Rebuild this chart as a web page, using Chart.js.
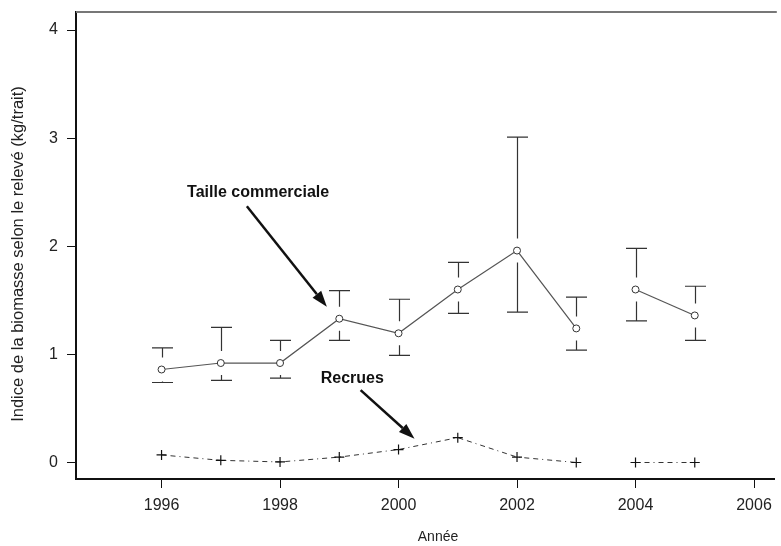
<!DOCTYPE html>
<html>
<head>
<meta charset="utf-8">
<script src="https://cdn.jsdelivr.net/npm/chart.js@4.4.1/dist/chart.umd.min.js"></script>
<style>
  html, body { margin: 0; padding: 0; background: #fff; overflow: hidden; }
  #wrap { width: 781px; height: 546px; }
</style>
</head>
<body>
<div id="wrap"><canvas id="c" width="781" height="546"></canvas></div>
<script>
// Survey years and biomass indices (kg/trait)
const years = [1996, 1997, 1998, 1999, 2000, 2001, 2002, 2003, 2004, 2005];
const commercial     = [0.86, 0.92, 0.92, 1.33, 1.195, 1.60, 1.96, 1.24, 1.60, 1.36];
const commercialLow  = [0.74, 0.76, 0.78, 1.13, 0.99, 1.38, 1.39, 1.04, 1.31, 1.13];
const commercialHigh = [1.06, 1.25, 1.13, 1.59, 1.51, 1.85, 3.01, 1.53, 1.98, 1.63];
const recruits       = [0.07, 0.02, 0.005, 0.05, 0.12, 0.23, 0.05, 0.0, 0.0, 0.0];

const xTicks = [1996, 1998, 2000, 2002, 2004, 2006];
const yTicks = [0, 1, 2, 3, 4];

const xTitle = 'Année';
const yTitle = 'Indice de la biomasse selon le relevé (kg/trait)';

// the series are not joined across this year (change of survey)
const seriesBreakAfter = 2003;

const FONT = '"Liberation Sans", Arial, Helvetica, sans-serif';
const INK = '#222';

const toPoints = vals => years.map((yr, i) => ({ x: yr, y: vals[i] }));
const breakSegment = colour => ({
  borderColor: ctx => ctx.p0.parsed.x === seriesBreakAfter ? 'rgba(0,0,0,0)' : colour
});

// Labels with arrows, placed in data units
const notes = [
  { text: 'Taille commerciale', at: [1997.63, 2.50], from: [1997.44, 2.37], to: [1998.79, 1.44] },
  { text: 'Recrues',            at: [1999.22, 0.78], from: [1999.36, 0.67], to: [2000.27, 0.22] }
];

// vertical bars with caps, interrupted around the mean marker
const errorBars = {
  id: 'errorBars',
  afterDatasetsDraw(chart) {
    const { ctx, scales: { x, y } } = chart;
    const gap = 12, half = 10.5;
    ctx.save();
    ctx.strokeStyle = '#333';
    ctx.lineWidth = 1.2;
    years.forEach((yr, i) => {
      const px = Math.round(x.getPixelForValue(yr)) + 0.5;
      const pm = y.getPixelForValue(commercial[i]);
      const ph = y.getPixelForValue(commercialHigh[i]);
      const pl = y.getPixelForValue(commercialLow[i]);
      ctx.beginPath();
      if (pm - ph > gap) { ctx.moveTo(px, ph); ctx.lineTo(px, pm - gap); }
      if (pl - pm > gap) { ctx.moveTo(px, pm + gap); ctx.lineTo(px, pl); }
      ctx.moveTo(px - half, ph); ctx.lineTo(px + half, ph);
      ctx.moveTo(px - half, pl); ctx.lineTo(px + half, pl);
      ctx.stroke();
    });
    ctx.restore();
  }
};

const annotations = {
  id: 'annotations',
  afterDraw(chart) {
    const { ctx, scales: { x, y }, chartArea } = chart;
    ctx.save();
    // top edge of the frame
    ctx.strokeStyle = '#777';
    ctx.lineWidth = 2;
    ctx.beginPath();
    ctx.moveTo(chartArea.left, chartArea.top);
    ctx.lineTo(chartArea.right + 2, chartArea.top);
    ctx.stroke();

    // axis titles
    ctx.fillStyle = INK;
    ctx.textAlign = 'center';
    ctx.textBaseline = 'middle';
    ctx.font = '14px ' + FONT;
    ctx.fillText(xTitle, 438, 537);
    ctx.save();
    ctx.translate(18, 254);
    ctx.rotate(-Math.PI / 2);
    ctx.font = '16.5px ' + FONT;
    ctx.fillText(yTitle, 0, 0);
    ctx.restore();

    notes.forEach(n => {
      ctx.fillStyle = '#111';
      ctx.font = 'bold 16px ' + FONT;
      ctx.textAlign = 'center';
      ctx.textBaseline = 'middle';
      ctx.fillText(n.text, x.getPixelForValue(n.at[0]), y.getPixelForValue(n.at[1]));

      const x0 = x.getPixelForValue(n.from[0]), y0 = y.getPixelForValue(n.from[1]);
      const x1 = x.getPixelForValue(n.to[0]),   y1 = y.getPixelForValue(n.to[1]);
      const ang = Math.atan2(y1 - y0, x1 - x0);
      const headLen = 16, headW = 5.5;
      const bx = x1 - headLen * Math.cos(ang), by = y1 - headLen * Math.sin(ang);
      ctx.strokeStyle = '#111';
      ctx.lineWidth = 2.5;
      ctx.beginPath();
      ctx.moveTo(x0, y0);
      ctx.lineTo(bx, by);
      ctx.stroke();
      ctx.beginPath();
      ctx.moveTo(x1, y1);
      ctx.lineTo(bx + headW * Math.sin(ang), by - headW * Math.cos(ang));
      ctx.lineTo(bx - headW * Math.sin(ang), by + headW * Math.cos(ang));
      ctx.closePath();
      ctx.fill();
    });
    ctx.restore();
  }
};

new Chart(document.getElementById('c'), {
  type: 'line',
  data: {
    datasets: [
      {
        label: 'Taille commerciale',
        data: toPoints(commercial),
        borderColor: '#555',
        borderWidth: 1.2,
        pointStyle: 'circle',
        pointRadius: 3.5,
        pointBorderWidth: 1,
        pointBorderColor: '#333',
        pointBackgroundColor: '#fff',
        segment: breakSegment('#555'),
        tension: 0
      },
      {
        label: 'Recrues',
        data: toPoints(recruits),
        borderColor: '#333',
        borderWidth: 1,
        borderDash: [5, 4, 5, 4, 1, 4],
        pointStyle: 'cross',
        pointRadius: 5,
        pointBorderWidth: 1.2,
        pointBorderColor: '#111',
        segment: breakSegment('#333'),
        tension: 0
      }
    ]
  },
  options: {
    responsive: false,
    animation: false,
    events: [],
    layout: { padding: { top: 12, left: 0, right: 0, bottom: 0 } },
    plugins: { legend: { display: false }, tooltip: { enabled: false } },
    scales: {
      x: {
        type: 'linear',
        min: 1994.556,
        max: 2006.351,
        afterBuildTicks: s => { s.ticks = xTicks.map(v => ({ value: v })); },
        afterFit: s => { s.height = 67; s.paddingLeft = 0; s.paddingRight = 0; },
        grid: { drawOnChartArea: false, drawTicks: true, tickLength: 9, color: '#111', lineWidth: 1 },
        border: { display: true, color: '#111', width: 2 },
        ticks: {
          color: INK, padding: 8, maxRotation: 0, autoSkip: false,
          font: { family: FONT, size: 16 },
          callback: v => String(v)
        },
        title: { display: false }
      },
      y: {
        min: -0.1526,
        max: 4.1665,
        afterBuildTicks: s => { s.ticks = yTicks.map(v => ({ value: v })); },
        afterFit: s => { s.width = 76; s.paddingTop = 0; s.paddingBottom = 0; },
        grid: { drawOnChartArea: false, drawTicks: true, tickLength: 9, color: '#111', lineWidth: 1 },
        border: { display: true, color: '#111', width: 2 },
        ticks: {
          color: INK, padding: 9,
          font: { family: FONT, size: 16 },
          callback: v => String(v)
        },
        title: { display: false }
      }
    }
  },
  plugins: [errorBars, annotations]
});
</script>
</body>
</html>
